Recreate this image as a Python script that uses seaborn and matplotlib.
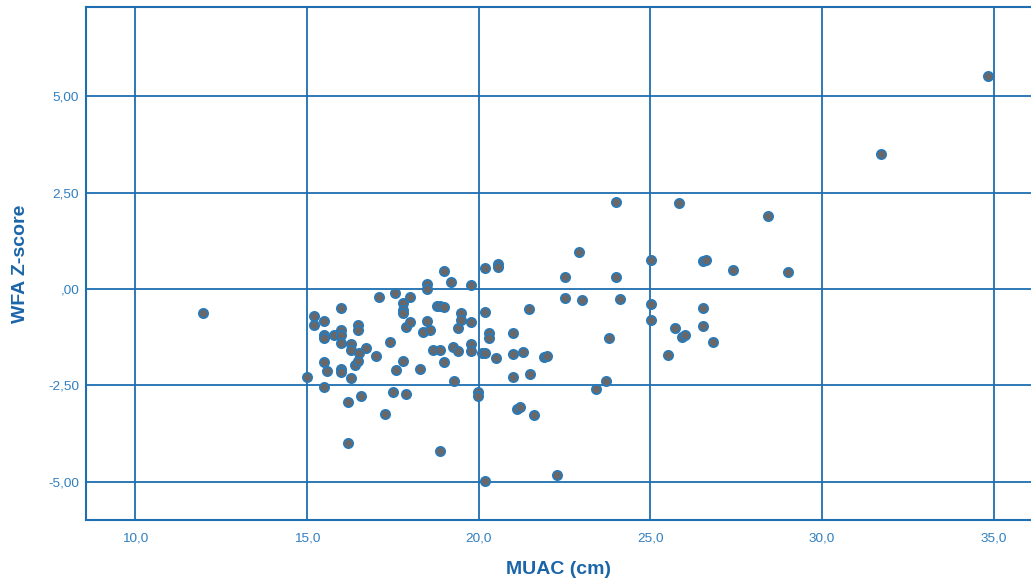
import numpy as np
import pandas as pd
import seaborn as sns
import matplotlib.pyplot as plt
from matplotlib.ticker import FixedLocator

# -------- Data --------
muac = [
    11.98, 15.0, 15.2, 15.2, 15.49, 15.49, 15.49, 15.49, 15.49, 15.6,
    15.78, 16.0, 16.0, 16.0, 16.0, 16.0, 16.0, 16.2, 16.2, 16.3,
    16.3, 16.3, 16.39, 16.48, 16.48, 16.48, 16.51, 16.59, 16.71, 17.0,
    17.1, 17.29, 17.41, 17.5, 17.58, 17.6, 17.8, 17.8, 17.8, 17.79,
    17.89, 17.89, 18.0, 18.0, 18.3, 18.38, 18.49, 18.49, 18.49, 18.6,
    18.66, 18.78, 18.88, 18.88, 18.89, 18.98, 18.98, 18.98, 19.19, 19.27,
    19.28, 19.39, 19.4, 19.48, 19.48, 19.78, 19.78, 19.78, 19.78, 19.99,
    19.99, 20.09, 20.19, 20.19, 20.19, 20.2, 20.29, 20.29, 20.5, 20.58,
    20.58, 20.99, 20.99, 21.0, 21.11, 21.2, 21.28, 21.48, 21.5, 21.61,
    21.9, 22.0, 22.29, 22.52, 22.52, 22.91, 23.0, 23.41, 23.71, 23.8,
    24.0, 24.0, 24.11, 25.01, 25.01, 25.01, 25.52, 25.71, 25.82, 25.91,
    26.01, 26.52, 26.62, 26.52, 26.52, 26.81, 27.41, 28.42, 29.02, 31.72,
    34.84,
]
wfa_z = [
    -0.62, -2.29, -0.70, -0.92, -0.82, -1.18, -1.28, -1.90, -2.55, -2.12,
    -1.19, -0.50, -1.05, -1.18, -1.39, -2.08, -2.15, -2.94, -3.99, -1.43,
    -1.57, -2.30, -1.97, -0.92, -1.05, -1.86, -1.67, -2.77, -1.54, -1.73,
    -0.20, -3.23, -1.38, -2.68, -0.11, -2.10, -0.36, -0.55, -0.63, -1.86,
    -0.98, -2.72, -0.20, -0.85, -2.08, -1.12, 0.13, 0.00, -0.82, -1.05,
    -1.57, -0.44, -0.44, -1.57, -4.20, 0.47, -0.46, -1.90, 0.19, -1.50,
    -2.39, -1.60, -1.02, -0.61, -0.79, 0.10, -0.86, -1.43, -1.60, -2.67,
    -2.78, -1.65, -1.67, 0.54, -0.60, -4.99, -1.13, -1.26, -1.80, 0.65,
    0.58, -1.13, -1.69, -2.28, -3.10, -3.06, -1.64, -0.53, -2.21, -3.26,
    -1.76, -1.74, -4.83, 0.30, -0.23, 0.97, -0.29, -2.58, -2.38, -1.26,
    2.26, 0.31, -0.26, 0.75, -0.40, -0.79, -1.72, -1.00, 2.24, -1.24,
    -1.18, 0.74, 0.75, -0.48, -0.96, -1.37, 0.49, 1.90, 0.43, 3.51,
    5.53,
]

x_ticks = [10.0, 15.0, 20.0, 25.0, 30.0, 35.0]
x_ticklabels = ["10,0", "15,0", "20,0", "25,0", "30,0", "35,0"]
y_ticks = [-5.0, -2.5, 0.0, 2.5, 5.0]
y_ticklabels = ["-5,00", "-2,50", ",00", "2,50", "5,00"]

df = pd.DataFrame({"MUAC (cm)": muac, "WFA Z-score": wfa_z})

# -------- Style --------
GRID_BLUE = "#1f6eb1"
TICK_BLUE = "#2f7fc0"
LABEL_BLUE = "#1a65a8"

sns.set_style("white")
plt.rcParams["font.family"] = ["Liberation Sans", "DejaVu Sans"]

fig = plt.figure(figsize=(10.31, 5.88), dpi=100)
ax = fig.add_axes([86 / 1031, 1 - 520 / 588, 1 - 86 / 1031, (520 - 7) / 588])

sns.scatterplot(data=df, x="MUAC (cm)", y="WFA Z-score", ax=ax,
                s=44, color="#6b6767", edgecolor="#2a7ab8", linewidth=1.3,
                zorder=3)

ax.set_xlim(8.573, 36.08)
ax.set_ylim(-5.99, 7.315)

ax.xaxis.set_major_locator(FixedLocator(x_ticks))
ax.yaxis.set_major_locator(FixedLocator(y_ticks))
ax.set_xticklabels(x_ticklabels)
ax.set_yticklabels(y_ticklabels)
ax.tick_params(axis="both", length=0, labelsize=9.7, labelcolor=TICK_BLUE)
ax.tick_params(axis="x", pad=9)
ax.tick_params(axis="y", pad=5)

ax.grid(True, color=GRID_BLUE, linewidth=1.3, zorder=1)
ax.set_axisbelow(True)

for side in ["left", "bottom", "top"]:
    ax.spines[side].set_color(GRID_BLUE)
    ax.spines[side].set_linewidth(1.5)
ax.spines["right"].set_visible(False)

ax.set_xlabel("MUAC (cm)", fontsize=14, fontweight="bold", color=LABEL_BLUE,
              labelpad=12)
ax.set_ylabel("WFA Z-score", fontsize=14, fontweight="bold", color=LABEL_BLUE,
              labelpad=14)

fig.savefig("out.png", dpi=100)
plt.close(fig)
